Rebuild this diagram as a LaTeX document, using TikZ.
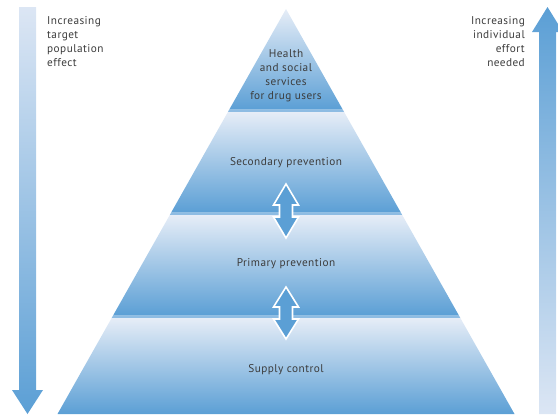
\documentclass[tikz,border=0pt]{standalone}
\usepackage{fontspec}
\setmainfont[LetterSpace=4]{PT Sans}
\usetikzlibrary{calc}
\definecolor{pyrlight}{HTML}{E6EDF7}
\definecolor{pyrdark}{HTML}{5B9FD5}
\definecolor{pyrstrip}{HTML}{8EBCE3}
\definecolor{arrlight}{HTML}{DCE6F4}
\definecolor{txtgray}{HTML}{3C3C3C}
\tikzset{
  lbl/.style={text=txtgray, font=\fontsize{11.3}{14}\selectfont, inner sep=0pt},
  dblarrow/.style={fill=pyrdark, draw=white, line width=1.6pt, line join=miter},
}
\newcommand{\pyrband}[2]{%
  \pgfmathsetmacro\tA{(#1-9)/405}%
  \pgfmathsetmacro\tB{(#2-2.5-9)/405}%
  \pgfmathsetmacro\tC{(#2-9)/405}%
  \shade[top color=pyrlight, bottom color=pyrdark]
    ($(A)!\tA!(BL)$) -- ($(A)!\tA!(BR)$) -- ($(A)!\tB!(BR)$) -- ($(A)!\tB!(BL)$) -- cycle;
  \fill[pyrstrip]
    ($(A)!\tB!(BL)$) -- ($(A)!\tB!(BR)$) -- ($(A)!\tC!(BR)$) -- ($(A)!\tC!(BL)$) -- cycle;
}
\begin{document}
\begin{tikzpicture}[x=1bp, y=-1bp]
\useasboundingbox (0,0) rectangle (558,414);
\coordinate (A) at (286,9);
\coordinate (BL) at (57.5,414);
\coordinate (BR) at (514.5,414);
% pyramid bands
\pyrband{9}{112}
\pyrband{112}{215}
\pyrband{215}{318}
\pgfmathsetmacro\tA{(318-9)/405}
\shade[top color=pyrlight, bottom color=pyrdark]
  ($(A)!\tA!(BL)$) -- ($(A)!\tA!(BR)$) -- (BR) -- (BL) -- cycle;
% left arrow
\shade[top color=arrlight, bottom color=pyrdark]
  (19,7) -- (36,7) -- (36,390) -- (43,390) -- (27.5,414) -- (12,390) -- (19,390) -- cycle;
% right arrow
\shade[top color=pyrdark, bottom color=arrlight]
  (539,414) -- (539,32) -- (532,32) -- (547.5,7) -- (563,32) -- (556,32) -- (556,414) -- cycle;
% double arrows
\draw[dblarrow] (286,184) -- (298.5,205) -- (292.5,205) -- (292.5,217) -- (298.5,217)
  -- (286,238) -- (273.5,217) -- (279.5,217) -- (279.5,205) -- (273.5,205) -- cycle;
\draw[dblarrow] (286,287) -- (298.5,307) -- (292.5,307) -- (292.5,319) -- (298.5,319)
  -- (286,339) -- (273.5,319) -- (279.5,319) -- (279.5,307) -- (273.5,307) -- cycle;
% labels
\node[lbl, align=center] (health) at (286,76) {Health\\and social\\services\\for drug users};
\node[lbl] (secondary) at (286,162.5) {Secondary prevention};
\node[lbl] (primary) at (286,263.5) {Primary prevention};
\node[lbl] (supply) at (286,369.5) {Supply control};
\node[lbl, align=left, anchor=west] (target) at (47,41.5) {Increasing\\target\\population\\effect};
\node[lbl, align=right, anchor=east] (effort) at (525,41.5) {Increasing\\individual\\effort\\needed};
\end{tikzpicture}
\end{document}
